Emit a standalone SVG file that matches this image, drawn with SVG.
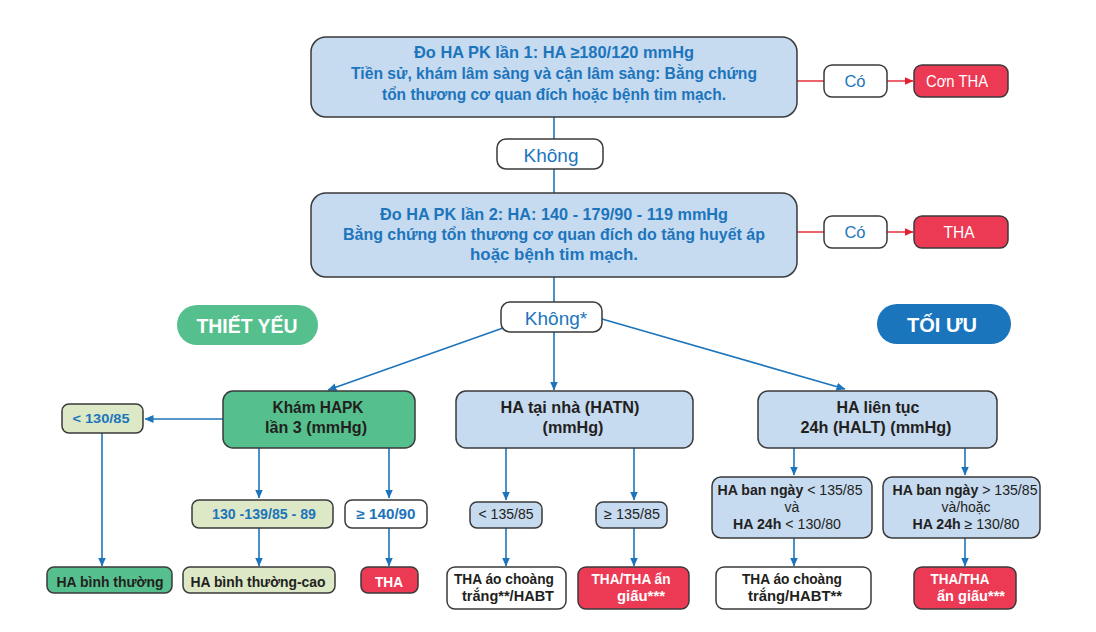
<svg xmlns="http://www.w3.org/2000/svg" width="1096" height="632" viewBox="0 0 1096 632">
<defs>
<marker id="ab" markerWidth="9" markerHeight="8" refX="8.5" refY="4" orient="auto" markerUnits="userSpaceOnUse"><path d="M0,0 L9,4 L0,8 z" fill="#1c75bc"/></marker>
<marker id="ar" markerWidth="9" markerHeight="8" refX="8.5" refY="4" orient="auto" markerUnits="userSpaceOnUse"><path d="M0,0 L9,4 L0,8 z" fill="#e5202e"/></marker>
<style>
text{font-family:"Liberation Sans",Arial,sans-serif;text-anchor:middle}
.bx{stroke:#3a3a3a;stroke-width:1.5}
.lb{fill:#c6daf0}
.gr{fill:#55bf8d}
.pg{fill:#dce8c6}
.wh{fill:#ffffff}
.rd{fill:#ec3a55}
.tb{fill:#1c75bc;font-weight:bold}
.tr{fill:#1c75bc}
.td{fill:#231f20;font-weight:bold}
.tdr{fill:#231f20}
.tw{fill:#ffffff}
.twb{fill:#ffffff;font-weight:bold}
.cb{stroke:#1c75bc;stroke-width:1.6;fill:none}
.cr{stroke:#e5202e;stroke-width:1.4;fill:none}
</style>
</defs>
<rect width="1096" height="632" fill="#ffffff"/>

<g id="connectors">
<line class="cb" x1="554" y1="117" x2="554" y2="139"/>
<line class="cb" x1="554" y1="169" x2="554" y2="193"/>
<line class="cb" x1="554" y1="277" x2="554" y2="302"/>
<line class="cb" x1="503" y1="328" x2="328" y2="390" marker-end="url(#ab)"/>
<line class="cb" x1="554" y1="332" x2="554" y2="390" marker-end="url(#ab)"/>
<line class="cb" x1="602" y1="319" x2="845" y2="389" marker-end="url(#ab)"/>
<line class="cr" x1="797" y1="81" x2="824" y2="81"/>
<line class="cr" x1="887" y1="81" x2="913" y2="81" marker-end="url(#ar)"/>
<line class="cr" x1="797" y1="232" x2="824" y2="232"/>
<line class="cr" x1="887" y1="232" x2="913" y2="232" marker-end="url(#ar)"/>
<line class="cb" x1="223" y1="419" x2="145" y2="419" marker-end="url(#ab)"/>
<line class="cb" x1="102" y1="433" x2="102" y2="566" marker-end="url(#ab)"/>
<line class="cb" x1="259" y1="448" x2="259" y2="498" marker-end="url(#ab)"/>
<line class="cb" x1="389" y1="448" x2="389" y2="498" marker-end="url(#ab)"/>
<line class="cb" x1="259" y1="528" x2="259" y2="566" marker-end="url(#ab)"/>
<line class="cb" x1="389" y1="528" x2="389" y2="566" marker-end="url(#ab)"/>
<line class="cb" x1="506" y1="448" x2="506" y2="500" marker-end="url(#ab)"/>
<line class="cb" x1="634" y1="448" x2="634" y2="500" marker-end="url(#ab)"/>
<line class="cb" x1="506" y1="528" x2="506" y2="566" marker-end="url(#ab)"/>
<line class="cb" x1="634" y1="528" x2="634" y2="566" marker-end="url(#ab)"/>
<line class="cb" x1="794" y1="448" x2="794" y2="475" marker-end="url(#ab)"/>
<line class="cb" x1="965" y1="448" x2="965" y2="475" marker-end="url(#ab)"/>
<line class="cb" x1="794" y1="538" x2="794" y2="566" marker-end="url(#ab)"/>
<line class="cb" x1="965" y1="538" x2="965" y2="566" marker-end="url(#ab)"/>
</g>

<g id="box1">
<rect class="bx lb" x="311" y="37" width="486" height="80" rx="15"/>
<text class="tb" x="554" y="58" font-size="16.5" textLength="280" lengthAdjust="spacingAndGlyphs">Đo HA PK lần 1: HA ≥180/120 mmHg</text>
<text class="tb" x="554" y="79" font-size="16.5" textLength="406" lengthAdjust="spacingAndGlyphs">Tiền sử, khám lâm sàng và cận lâm sàng: Bằng chứng</text>
<text class="tb" x="554" y="100" font-size="16.5" textLength="344" lengthAdjust="spacingAndGlyphs">tổn thương cơ quan đích hoặc bệnh tim mạch.</text>
</g>
<g id="khong1">
<rect class="bx wh" x="497" y="139" width="106" height="30" rx="9"/>
<text class="tr" x="551" y="162" font-size="19">Không</text>
</g>
<g id="co1">
<rect class="bx wh" x="824" y="65" width="63" height="32" rx="8"/>
<text class="tr" x="855" y="87" font-size="16.5">Có</text>
</g>
<g id="conTHA">
<rect class="bx rd" x="914" y="65" width="94" height="32" rx="8"/>
<text class="tw" x="957" y="87" font-size="16.5" textLength="62" lengthAdjust="spacingAndGlyphs">Cơn THA</text>
</g>

<g id="box2">
<rect class="bx lb" x="311" y="193" width="486" height="84" rx="15"/>
<text class="tb" x="554" y="220" font-size="16.5" textLength="348" lengthAdjust="spacingAndGlyphs">Đo HA PK lần 2: HA: 140 - 179/90 - 119 mmHg</text>
<text class="tb" x="554" y="240" font-size="16.5" textLength="422" lengthAdjust="spacingAndGlyphs">Bằng chứng tổn thương cơ quan đích do tăng huyết áp</text>
<text class="tb" x="554" y="260" font-size="16.5" textLength="168" lengthAdjust="spacingAndGlyphs">hoặc bệnh tim mạch.</text>
</g>
<g id="co2">
<rect class="bx wh" x="824" y="216" width="63" height="32" rx="8"/>
<text class="tr" x="855" y="238" font-size="16.5">Có</text>
</g>
<g id="THA2">
<rect class="bx rd" x="914" y="216" width="94" height="32" rx="8"/>
<text class="tw" x="959" y="238" font-size="16" textLength="31" lengthAdjust="spacingAndGlyphs">THA</text>
</g>

<g id="khong2">
<rect class="bx wh" x="501" y="302" width="101" height="30" rx="9"/>
<text class="tr" x="556" y="325" font-size="19">Không*</text>
</g>

<g id="thietyeu">
<rect x="177" y="305" width="141" height="40" rx="20" fill="#55bf8d"/>
<text class="twb" x="247" y="333" font-size="20" textLength="101" lengthAdjust="spacingAndGlyphs">THIẾT YẾU</text>
</g>
<g id="toiuu">
<rect x="877" y="304" width="134" height="40" rx="20" fill="#1a75bc"/>
<text class="twb" x="942" y="332" font-size="20.5" textLength="70" lengthAdjust="spacingAndGlyphs">TỐI ƯU</text>
</g>

<g id="khamHAPK">
<rect class="bx gr" x="223" y="391" width="192" height="57" rx="10"/>
<text class="td" x="318" y="413" font-size="16" textLength="91" lengthAdjust="spacingAndGlyphs">Khám HAPK</text>
<text class="td" x="316" y="433" font-size="16" textLength="102" lengthAdjust="spacingAndGlyphs">lần 3 (mmHg)</text>
</g>
<g id="lt13085">
<rect class="bx pg" x="62" y="404" width="81" height="29" rx="7"/>
<text class="tb" x="101" y="423" font-size="13.5" textLength="57" lengthAdjust="spacingAndGlyphs">&lt; 130/85</text>
</g>
<g id="habinhthuong">
<rect class="bx gr" x="47" y="567" width="125" height="26" rx="7"/>
<text class="td" x="110" y="587" font-size="14.5" textLength="107" lengthAdjust="spacingAndGlyphs">HA bình thường</text>
</g>
<g id="r130139">
<rect class="bx pg" x="192" y="500" width="141" height="28" rx="7"/>
<text class="tb" x="264" y="519" font-size="14" textLength="104" lengthAdjust="spacingAndGlyphs">130 -139/85 - 89</text>
</g>
<g id="ge14090">
<rect class="bx wh" x="345" y="500" width="82" height="28" rx="7"/>
<text class="tb" x="386" y="519" font-size="14" textLength="59" lengthAdjust="spacingAndGlyphs">≥ 140/90</text>
</g>
<g id="habtcao">
<rect class="bx pg" x="183" y="567" width="152" height="26" rx="7"/>
<text class="td" x="258" y="587" font-size="14.5" textLength="135" lengthAdjust="spacingAndGlyphs">HA bình thường-cao</text>
</g>
<g id="THA3">
<rect class="bx rd" x="361" y="567" width="57" height="26" rx="7"/>
<text class="twb" x="389" y="587" font-size="14.5" textLength="28" lengthAdjust="spacingAndGlyphs">THA</text>
</g>

<g id="hatn">
<rect class="bx lb" x="456" y="391" width="237" height="57" rx="10"/>
<text class="td" x="570" y="413" font-size="16" textLength="139" lengthAdjust="spacingAndGlyphs">HA tại nhà (HATN)</text>
<text class="td" x="573" y="433" font-size="16" textLength="61" lengthAdjust="spacingAndGlyphs">(mmHg)</text>
</g>
<g id="lt13585">
<rect class="bx lb" x="470" y="502" width="72" height="26" rx="7"/>
<text class="tdr" x="506" y="519" font-size="14" textLength="55" lengthAdjust="spacingAndGlyphs">&lt; 135/85</text>
</g>
<g id="ge13585">
<rect class="bx lb" x="596" y="502" width="71" height="26" rx="7"/>
<text class="tdr" x="632" y="519" font-size="14" textLength="56" lengthAdjust="spacingAndGlyphs">≥ 135/85</text>
</g>
<g id="aochoang1">
<rect class="bx wh" x="447" y="567" width="119" height="42" rx="8"/>
<text class="td" x="504" y="584" font-size="14.5" textLength="100" lengthAdjust="spacingAndGlyphs">THA áo choàng</text>
<text class="td" x="508" y="601" font-size="14.5" textLength="92" lengthAdjust="spacingAndGlyphs">trắng**/HABT</text>
</g>
<g id="angiau1">
<rect class="bx rd" x="578" y="567" width="111" height="42" rx="8"/>
<text class="twb" x="631" y="584" font-size="14.5" textLength="79" lengthAdjust="spacingAndGlyphs">THA/THA ẩn</text>
<text class="twb" x="641" y="601" font-size="14.5" textLength="48" lengthAdjust="spacingAndGlyphs">giấu***</text>
</g>

<g id="halt">
<rect class="bx lb" x="758" y="391" width="239" height="57" rx="10"/>
<text class="td" x="878" y="413" font-size="16" textLength="83" lengthAdjust="spacingAndGlyphs">HA liên tục</text>
<text class="td" x="876" y="433" font-size="16" textLength="151" lengthAdjust="spacingAndGlyphs">24h (HALT) (mmHg)</text>
</g>
<g id="halt-lt">
<rect class="bx lb" x="712" y="477" width="160" height="61" rx="9"/>
<text class="tdr" x="790" y="495" font-size="14" textLength="145" lengthAdjust="spacingAndGlyphs"><tspan font-weight="bold">HA ban ngày</tspan> &lt; 135/85</text>
<text class="tdr" x="792" y="512" font-size="14">và</text>
<text class="tdr" x="787" y="529" font-size="14" textLength="108" lengthAdjust="spacingAndGlyphs"><tspan font-weight="bold">HA 24h</tspan> &lt; 130/80</text>
</g>
<g id="halt-ge">
<rect class="bx lb" x="883" y="477" width="157" height="61" rx="9"/>
<text class="tdr" x="965" y="495" font-size="14" textLength="145" lengthAdjust="spacingAndGlyphs"><tspan font-weight="bold">HA ban ngày</tspan> &gt; 135/85</text>
<text class="tdr" x="966" y="512" font-size="14">và/hoặc</text>
<text class="tdr" x="966" y="529" font-size="14" textLength="107" lengthAdjust="spacingAndGlyphs"><tspan font-weight="bold">HA 24h</tspan> ≥ 130/80</text>
</g>
<g id="aochoang2">
<rect class="bx wh" x="716" y="567" width="155" height="42" rx="8"/>
<text class="td" x="792" y="584" font-size="14.5" textLength="100" lengthAdjust="spacingAndGlyphs">THA áo choàng</text>
<text class="td" x="795" y="601" font-size="14.5" textLength="94" lengthAdjust="spacingAndGlyphs">trắng/HABT**</text>
</g>
<g id="angiau2">
<rect class="bx rd" x="914" y="567" width="102" height="42" rx="8"/>
<text class="twb" x="960" y="584" font-size="14.5" textLength="59" lengthAdjust="spacingAndGlyphs">THA/THA</text>
<text class="twb" x="971" y="601" font-size="14.5" textLength="68" lengthAdjust="spacingAndGlyphs">ẩn giấu***</text>
</g>
</svg>
